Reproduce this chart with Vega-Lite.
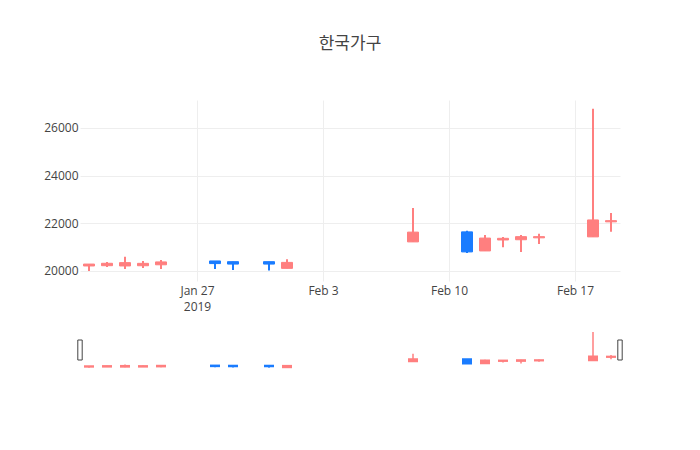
{
  "$schema": "https://vega.github.io/schema/vega-lite/v6.json",
  "background": "white",
  "padding": {"left": 35, "top": 35, "right": 5, "bottom": 5},
  "config": {
    "view": {"stroke": null},
    "font": "Open Sans",
    "axis": {"labelFont": "Open Sans", "labelColor": "#444", "labelFontSize": 12}
  },
  "datasets": {
    "prices": [
      {"date": "2019-01-21", "open": 20210, "high": 20290, "low": 20000, "close": 20290},
      {"date": "2019-01-22", "open": 20222, "high": 20380, "low": 20170, "close": 20323},
      {"date": "2019-01-23", "open": 20210, "high": 20600, "low": 20080, "close": 20350},
      {"date": "2019-01-24", "open": 20220, "high": 20420, "low": 20130, "close": 20320},
      {"date": "2019-01-25", "open": 20260, "high": 20460, "low": 20080, "close": 20380},
      {"date": "2019-01-28", "open": 20420, "high": 20420, "low": 20080, "close": 20310},
      {"date": "2019-01-29", "open": 20390, "high": 20390, "low": 20040, "close": 20290},
      {"date": "2019-01-31", "open": 20390, "high": 20390, "low": 20020, "close": 20290},
      {"date": "2019-02-01", "open": 20110, "high": 20490, "low": 20110, "close": 20360},
      {"date": "2019-02-08", "open": 21220, "high": 22640, "low": 21220, "close": 21630},
      {"date": "2019-02-11", "open": 21640, "high": 21690, "low": 20750, "close": 20800},
      {"date": "2019-02-12", "open": 20840, "high": 21510, "low": 20840, "close": 21380},
      {"date": "2019-02-13", "open": 21300, "high": 21430, "low": 21000, "close": 21370},
      {"date": "2019-02-14", "open": 21310, "high": 21510, "low": 20800, "close": 21440},
      {"date": "2019-02-15", "open": 21390, "high": 21560, "low": 21130, "close": 21440},
      {"date": "2019-02-18", "open": 21430, "high": 26800, "low": 21430, "close": 22140},
      {"date": "2019-02-19", "open": 22060, "high": 22430, "low": 21640, "close": 22110}
    ],
    "handles": [
      {"t": "2019-01-20T12:00:00Z", "y": 23375},
      {"t": "2019-02-19T12:00:00Z", "y": 23375}
    ]
  },
  "spacing": 18,
  "vconcat": [
    {
      "width": 540,
      "height": 181,
      "title": {
        "text": "한국가구",
        "font": "Noto Sans CJK KR",
        "fontSize": 17,
        "fontWeight": "normal",
        "color": "#444",
        "anchor": "middle",
        "frame": "group",
        "offset": 47
      },
      "data": {"name": "prices"},
      "encoding": {
        "x": {
          "field": "date",
          "type": "temporal",
          "scale": {
            "type": "utc",
            "padding": 0,
            "domain": [
              {"year": 2019, "month": 1, "date": 20, "hours": 12, "utc": true},
              {"year": 2019, "month": 2, "date": 19, "hours": 12, "utc": true}
            ]
          },
          "axis": {
            "title": null,
            "values": [
              {"year": 2019, "month": 1, "date": 27, "utc": true},
              {"year": 2019, "month": 2, "date": 3, "utc": true},
              {"year": 2019, "month": 2, "date": 10, "utc": true},
              {"year": 2019, "month": 2, "date": 17, "utc": true}
            ],
            "labelExpr": "utcFormat(datum.value, '%b %-d') == 'Jan 27' ? ['Jan 27', '2019'] : utcFormat(datum.value, '%b %-d')",
            "grid": true,
            "gridColor": "#eeeeee",
            "gridWidth": 1,
            "ticks": false,
            "domain": false,
            "labelPadding": 4,
            "labelLineHeight": 16
          }
        },
        "color": {
          "condition": {"test": "datum.close >= datum.open", "value": "#ff7f7f"},
          "value": "#1a7cff"
        },
        "stroke": {
          "condition": {"test": "datum.close >= datum.open", "value": "#ff7f7f"},
          "value": "#1a7cff"
        }
      },
      "layer": [
        {
          "mark": {"type": "rule", "strokeWidth": 2},
          "encoding": {
            "y": {
              "field": "low",
              "type": "quantitative",
              "scale": {"domain": [19580, 27170], "nice": false, "zero": false},
              "axis": {
                "title": null,
                "values": [20000, 22000, 24000, 26000],
                "format": "d",
                "grid": true,
                "gridColor": "#eeeeee",
                "ticks": false,
                "domain": false,
                "labelPadding": 2,
                "minExtent": 45,
                "maxExtent": 45
              }
            },
            "y2": {"field": "high"}
          }
        },
        {
          "mark": {"type": "bar", "width": 11, "strokeWidth": 1},
          "encoding": {
            "y": {"field": "open", "type": "quantitative"},
            "y2": {"field": "close"}
          }
        }
      ]
    },
    {
      "width": 540,
      "height": 40,
      "layer": [
        {
          "data": {"name": "prices"},
          "mark": {"type": "rule", "strokeWidth": 1.5},
          "encoding": {
            "x": {
              "field": "date",
              "type": "temporal",
              "scale": {
                "type": "utc",
                "padding": 0,
                "domain": [
                  {"year": 2019, "month": 1, "date": 20, "hours": 12, "utc": true},
                  {"year": 2019, "month": 2, "date": 19, "hours": 12, "utc": true}
                ]
              },
              "axis": null
            },
            "y": {
              "field": "low",
              "type": "quantitative",
              "scale": {"domain": [19580, 27170], "nice": false, "zero": false},
              "axis": null
            },
            "y2": {"field": "high"},
            "color": {
              "condition": {"test": "datum.close >= datum.open", "value": "#ff7f7f"},
              "value": "#1a7cff"
            }
          }
        },
        {
          "data": {"name": "prices"},
          "mark": {"type": "bar", "width": 8, "strokeWidth": 2},
          "encoding": {
            "x": {"field": "date", "type": "temporal", "axis": null},
            "y": {"field": "open", "type": "quantitative", "axis": null},
            "y2": {"field": "close"},
            "color": {
              "condition": {"test": "datum.close >= datum.open", "value": "#ff7f7f"},
              "value": "#1a7cff"
            },
            "stroke": {
              "condition": {"test": "datum.close >= datum.open", "value": "#ff7f7f"},
              "value": "#1a7cff"
            }
          }
        },
        {
          "data": {"name": "handles"},
          "mark": {
            "type": "point",
            "shape": "M -0.22 -1 L 0.22 -1 L 0.22 1 L -0.22 1 Z",
            "size": 400,
            "filled": true,
            "color": "#ffffff",
            "stroke": "#444444",
            "strokeWidth": 1,
            "opacity": 1
          },
          "encoding": {
            "x": {"field": "t", "type": "temporal", "axis": null},
            "y": {"field": "y", "type": "quantitative", "axis": null}
          }
        }
      ]
    }
  ]
}
